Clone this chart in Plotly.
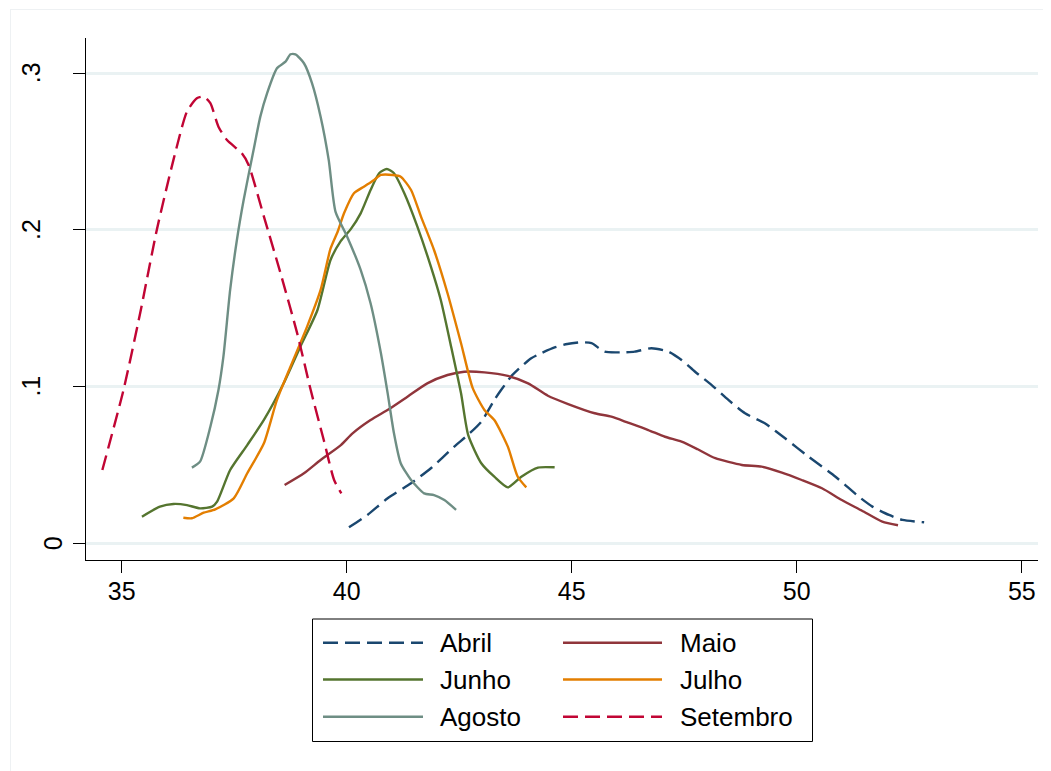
import plotly.graph_objects as go

# ---- data ----
abril_x = [40.05, 40.46, 40.91, 41.43, 41.87, 42.39, 42.69, 42.99, 43.28, 43.43, 43.65, 43.88, 44.10, 44.32,
           44.62, 44.90, 45.21, 45.44, 45.73, 46.11, 46.40, 46.77, 47.15, 47.44, 47.74, 48.11, 48.48, 48.85,
           49.29, 49.74, 50.26, 50.86, 51.38, 51.68, 52.05, 52.35, 52.83]
abril_y = [.0102, .0181, .0287, .0383, .0479, .0617, .0691, .0776, .0915, .0978, .1064, .1128, .1181, .1213,
           .1250, .1272, .1283, .1277, .1223, .1219, .1223, .1245, .1223, .1170, .1095, .1010, .0915, .0830,
           .0766, .0670, .0553, .0425, .0297, .0234, .0181, .0149, .0134]

maio_x = [38.62, 39.05, 39.42, 39.87, 40.13, 40.53, 40.94, 41.35, 41.79, 42.24, 42.61, 43.06, 43.58, 44.03,
          44.47, 44.92, 45.51, 45.88, 46.25, 46.70, 47.07, 47.44, 47.80, 48.19, 48.78, 49.22, 49.67, 50.11,
          50.56, 51.00, 51.45, 51.90, 52.25]
maio_y = [.0372, .0447, .0532, .0627, .0702, .0787, .0857, .0936, .1021, .1074, .1095, .1091, .1068, .1021,
          .0942, .0889, .0830, .0808, .0770, .0723, .0680, .0649, .0600, .0543, .0500, .0489, .0451, .0404,
          .0351, .0276, .0208, .0138, .0115]

junho_x = [35.45, 35.85, 36.15, 36.45, 36.74, 37.01, 37.12, 37.41, 37.79, 38.16, 38.60, 38.97, 39.35, 39.64,
           39.87, 40.09, 40.31, 40.53, 40.72, 40.89, 41.05, 41.28, 41.57, 41.87, 42.09, 42.32, 42.54, 42.70,
           42.99, 43.28, 43.58, 43.88, 44.25, 44.62]
junho_y = [.0170, .0234, .0251, .0244, .0223, .0234, .0266, .0468, .0627, .0787, .1021, .1255, .1489, .1808,
           .1930, .2005, .2106, .2255, .2362, .2389, .2362, .2234, .2021, .1766, .1553, .1255, .0957, .0690,
           .0511, .0425, .0357, .0425, .0483, .0485]

julho_x = [36.37, 36.56, 36.82, 37.08, 37.49, 37.79, 38.16, 38.45, 38.75, 39.12, 39.42, 39.64, 39.80, 39.94,
           40.16, 40.38, 40.61, 40.76, 41.02, 41.20, 41.43, 41.65, 41.94, 42.24, 42.54, 42.80, 43.06, 43.28,
           43.58, 43.80, 43.99]
julho_y = [.0163, .0160, .0195, .0217, .0287, .0447, .0638, .0915, .1127, .1383, .1617, .1880, .1990, .2106,
           .2234, .2276, .2319, .2351, .2351, .2340, .2255, .2085, .1872, .1596, .1277, .0990, .0851, .0787,
           .0617, .0425, .0357]

agosto_x = [36.56, 36.74, 36.97, 37.15, 37.26, 37.41, 37.56, 37.71, 37.93, 38.08, 38.23, 38.45, 38.64, 38.75,
            38.86, 39.05, 39.23, 39.42, 39.60, 39.75, 40.01, 40.31, 40.53, 40.76, 40.91, 41.05, 41.20, 41.43,
            41.72, 41.94, 42.17, 42.43]
agosto_y = [.0483, .0521, .0744, .0978, .1191, .1617, .1936, .2191, .2510, .2723, .2872, .3032, .3074, .3121,
            .3121, .3064, .2936, .2723, .2447, .2117, .1957, .1745, .1532, .1213, .0957, .0702, .0511, .0404,
            .0319, .0308, .0276, .0213]

setembro_x = [34.57, 35.04, 35.41, 35.78, 36.15, 36.45, 36.67, 36.82, 36.97, 37.15, 37.34, 37.67, 37.82,
              38.16, 38.53, 38.90, 39.20, 39.49, 39.72, 39.88]
setembro_y = [.0468, .0978, .1468, .2000, .2447, .2755, .2840, .2851, .2809, .2659, .2574, .2489, .2415,
              .2085, .1723, .1340, .0978, .0659, .0404, .0319]

x_ticks = [35, 40, 45, 50, 55]
y_ticks = [0, 0.1, 0.2, 0.3]
y_tick_text = ["0", ".1", ".2", ".3"]

series = [
    ("Abril", abril_x, abril_y, "#1a476f", "15px,7px"),
    ("Maio", maio_x, maio_y, "#90353b", "solid"),
    ("Junho", junho_x, junho_y, "#55752f", "solid"),
    ("Julho", julho_x, julho_y, "#e37e00", "solid"),
    ("Agosto", agosto_x, agosto_y, "#6e8e84", "solid"),
    ("Setembro", setembro_x, setembro_y, "#c10534", "15px,7px"),
]

FONT = "Liberation Sans, Arial, sans-serif"
OFF = 8                      # page body margin
W, H = 1051 - OFF, 771 - OFF
# plot area in page pixels: left 86, right 1038, top 38, bottom 560
ML, MT = 86 - OFF, 38 - OFF
MR = W - (1038 - OFF)
MB = H - (560 - OFF)
PW, PH = W - ML - MR, H - MT - MB

def px(xpage):
    return (xpage - OFF - ML) / PW

def py(ypage):
    return (H - MB - (ypage - OFF)) / PH

fig = go.Figure()
for name, xs, ys, col, dash in series:
    fig.add_trace(go.Scatter(x=xs, y=ys, mode="lines", name=name,
                             line=dict(color=col, width=2.4, dash=dash, shape="spline", smoothing=0.6),
                             showlegend=False))

shapes = []
annotations = []
# faint outer region border (top & left)
shapes.append(dict(type="line", xref="paper", yref="paper", x0=px(10), x1=px(1060), y0=py(9.5), y1=py(9.5),
                   line=dict(color="#eef1f3", width=1)))
shapes.append(dict(type="line", xref="paper", yref="paper", x0=px(10.5), x1=px(10.5), y0=py(9.5), y1=py(780),
                   line=dict(color="#eef1f3", width=1)))
# legend box
shapes.append(dict(type="rect", xref="paper", yref="paper", x0=px(312.5), x1=px(812.5), y0=py(619), y1=py(741.5),
                   line=dict(color="black", width=1), fillcolor="white"))
row_y = [642.7, 679.5, 716.7]
cols = [(323, 423, 438), (563, 662, 678)]
for i, (name, xs, ys, col, dash) in enumerate(series):
    r, c = divmod(i, 2)
    lx0, lx1, tx = cols[c]
    yy = row_y[r]
    shapes.append(dict(type="line", xref="paper", yref="paper", x0=px(lx0), x1=px(lx1), y0=py(yy), y1=py(yy),
                       line=dict(color=col, width=2.4, dash=dash)))
    annotations.append(dict(text=name, xref="paper", yref="paper", x=px(tx), y=py(yy), xanchor="left",
                            yanchor="middle", showarrow=False, font=dict(family=FONT, size=26, color="black")))

# y tick labels (rotated, Stata style)
for v, t in zip(y_ticks, y_tick_text):
    cx = 53 if t == "0" else 31
    annotations.append(dict(text=t, xref="paper", yref="y", x=px(cx), y=v, xanchor="center", yanchor="middle",
                            textangle=-90, showarrow=False, font=dict(family=FONT, size=25, color="black")))

fig.update_layout(
    width=W, height=H,
    margin=dict(l=ML, r=MR, t=MT, b=MB, pad=0),
    paper_bgcolor="white", plot_bgcolor="white",
    font=dict(family=FONT, size=24, color="black"),
    shapes=shapes, annotations=annotations,
    showlegend=False,
)
fig.update_xaxes(range=[34.207, 55.36], tickvals=x_ticks, ticks="outside", ticklen=12, tickwidth=1,
                 tickcolor="black", showline=True, linecolor="black", linewidth=1, showgrid=False,
                 zeroline=False, ticklabelstandoff=-3, tickfont=dict(family=FONT, size=25, color="black"))
fig.update_yaxes(range=[-0.01066, 0.3225], tickvals=y_ticks, ticks="outside", ticklen=12,
                 tickwidth=1, tickcolor="black", showline=True, linecolor="black", linewidth=1, showgrid=True,
                 gridcolor="#eaf2f3", gridwidth=2.5, zeroline=False, showticklabels=False)

fig.write_html("out.html")
